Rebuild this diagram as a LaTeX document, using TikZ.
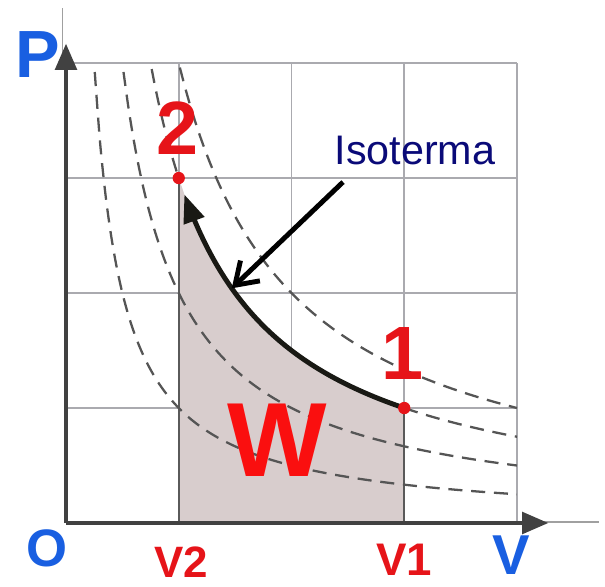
\documentclass[tikz,border=0pt]{standalone}
\usepackage{fontspec}
\setmainfont{Liberation Sans}
\usetikzlibrary{arrows.meta}
\definecolor{redlab}{RGB}{230,20,25}
\definecolor{bluelab}{RGB}{25,95,225}
\definecolor{navylab}{RGB}{10,10,120}
\definecolor{wfill}{RGB}{216,205,205}
\definecolor{axisgray}{RGB}{65,65,65}
\tikzset{
  gridline/.style={draw={rgb,255:red,170;green,170;blue,175}, line width=1.1pt},
  thinext/.style={draw={rgb,255:red,160;green,160;blue,160}, line width=0.9pt},
  axisline/.style={draw=axisgray, line width=2.8pt, -{Triangle[length=15pt,width=12pt]}},
  isodash/.style={draw={rgb,255:red,85;green,85;blue,85}, line width=1.3pt, dash pattern=on 8pt off 5pt},
  isothick/.style={draw={rgb,255:red,25;green,25;blue,20}, line width=2.8pt},
  reddot/.style={circle, fill=redlab, inner sep=0pt, minimum size=7pt},
  redbig/.style={text=redlab, font=\bfseries\fontsize{43}{43}\selectfont, inner sep=0pt},
  lab/.style={font=\bfseries, inner sep=0pt}
}
\begin{document}
\begin{tikzpicture}[x=2.255cm, y=2.3cm]
\useasboundingbox (-0.5854,-0.5478) rectangle (4.7805,4.548);
% thin extensions of the axes
\draw[thinext] (-0.03,4.0) -- (-0.03,4.48);
\draw[thinext] (4.0,0.01) -- (4.73,0.01);
% grid
\foreach \i in {1,2,3,4} {
  \draw[gridline] (\i,0) -- (\i,4);
  \draw[gridline] (0,\i) -- (4,\i);
}
% work area
\fill[wfill] (1,0) -- (1,3) -- plot[domain=1:3, samples=40] (\x,{3/\x}) -- (3,0) -- cycle;
\draw[draw={rgb,255:red,90;green,90;blue,90}, line width=1.2pt] (1,0) -- (1,3);
\draw[draw={rgb,255:red,90;green,90;blue,90}, line width=1.2pt] (3,0) -- (3,1);
% dashed isotherms
\draw[isodash] plot[domain=0.255:4, samples=80, smooth] (\x,{1/\x});
\draw[isodash] plot[domain=0.51:4, samples=80, smooth] (\x,{2/\x});
\draw[isodash] plot[domain=0.76:1, samples=20, smooth] (\x,{3/\x});
\draw[isodash] plot[domain=3:4, samples=20, smooth] (\x,{3/\x});
\draw[isodash] plot[domain=1.01:4, samples=80, smooth] (\x,{4/\x});
% axes
\coordinate (O) at (0,0);
\coordinate (ptop) at (0,4.17);
\coordinate (vend) at (4.28,0);
\draw[axisline] (O) -- (ptop);
\draw[axisline] (O) -- (vend);
% states
\coordinate (s1) at (3,1);
\coordinate (s2) at (1,3);
\draw[isothick, -{Triangle[length=16pt,width=12pt]}] plot[domain=3:1.05, samples=60, smooth] (\x,{3/\x});
\node[reddot] (d1) at (s1) {};
\node[reddot] (d2) at (s2) {};
% Isoterma label and arrow
\node[text=navylab, font=\fontsize{23.5}{24}\selectfont, inner sep=0pt] (iso) at (3.095,3.243) {Isoterma};
\coordinate (onc) at (1.47,{3/1.47});
\coordinate (isostart) at (2.457,2.965);
\draw[line width=2.8pt, -{Straight Barb[length=12pt,width=16pt,line width=2.8pt]}] (isostart) -- (onc);
% labels
\node[redbig] (l2) at (0.993,3.435) {2};
\node[redbig] (l1) at (2.989,1.470) {1};
\node[text={rgb,255:red,250;green,15;blue,15}, font=\bfseries\fontsize{60}{60}\selectfont, inner sep=0pt] (w) at (1.871,0.722) {W};
\node[lab, text=bluelab, font=\bfseries\fontsize{38}{38}\selectfont] (P) at (-0.248,4.070) {P};
\node[lab, text=bluelab, font=\bfseries\fontsize{30}{30}\selectfont] (Olab) at (-0.169,-0.217) {O};
\node[lab, text=redlab, font=\bfseries\fontsize{25}{25}\selectfont] (v2) at (1.020,-0.339) {V2};
\node[lab, text=redlab, font=\bfseries\fontsize{26}{26}\selectfont] (v1) at (2.998,-0.322) {V1};
\node[lab, text=bluelab, font=\bfseries\fontsize{32}{32}\selectfont] (V) at (3.947,-0.28) {V};
\end{tikzpicture}
\end{document}
